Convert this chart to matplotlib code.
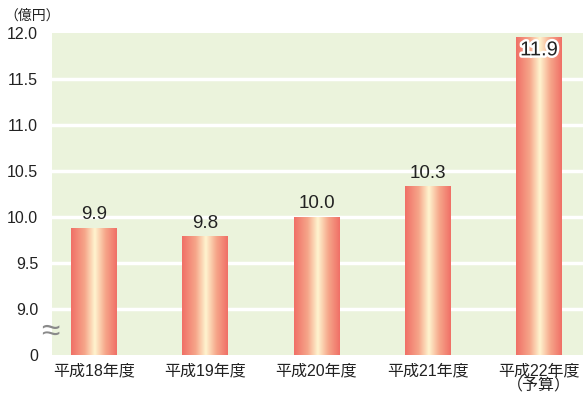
import numpy as np
import matplotlib.pyplot as plt
import matplotlib.patheffects as pe
from matplotlib.colors import LinearSegmentedColormap

plt.rcParams['font.family'] = ['Liberation Sans', 'Noto Sans CJK JP']

# data
years = ['平成18年度', '平成19年度', '平成20年度', '平成21年度', '平成22年度\n（予算）']
values = [9.9, 9.8, 10.0, 10.3, 11.9]
heights = [9.88, 9.79, 10.0, 10.33, 11.95]
ytick_vals = [8.5, 9.0, 9.5, 10.0, 10.5, 11.0, 11.5, 12.0]
ytick_labels = ['0', '9.0', '9.5', '10.0', '10.5', '11.0', '11.5', '12.0']

base = 8.5   # where "0" sits after the axis break
bar_w = 0.413

fig = plt.figure(figsize=(5.83, 4.01), dpi=100)
ax = fig.add_axes([52 / 583, 46 / 401, 531 / 583, 322 / 401])
ax.set_facecolor('#EBF3DC')

# white grid lines
for v in ytick_vals[1:-1]:
    ax.axhline(v, color='white', lw=2.5, zorder=1)

cmap = LinearSegmentedColormap.from_list(
    'bar', [(0, '#F06F66'), (0.3, '#F6A68A'), (0.52, '#FFF4CF'),
            (0.75, '#F6A68A'), (1, '#F06F66')])
grad = np.linspace(0, 1, 256).reshape(1, -1)

for i, h in enumerate(heights):
    ax.imshow(grad, cmap=cmap, aspect='auto', zorder=2,
              extent=[i - bar_w / 2, i + bar_w / 2, base, h])
    if i < len(heights) - 1:
        ax.text(i, h + 0.05, '%.1f' % values[i], ha='center', va='bottom',
                fontsize=13.5, color='#222222', zorder=3)
    else:
        ax.text(i, h - 0.03, '%.1f' % values[i], ha='center', va='top',
                fontsize=14.5, color='#222222', zorder=3,
                path_effects=[pe.withStroke(linewidth=3.5, foreground='white')])

ax.set_xlim(-0.378, 4.396)
ax.set_ylim(base, 12.0)
ax.set_xticks(range(len(years)))
ax.set_xticklabels(years, fontsize=11.5, color='#222222', linespacing=1.0)
ax.set_yticks(ytick_vals)
ax.set_yticklabels(ytick_labels, fontsize=11.5, color='#222222')
ax.tick_params(length=0)
ax.tick_params(axis='y', pad=10)
ax.tick_params(axis='x', pad=6)
for s in ax.spines.values():
    s.set_visible(False)

# axis break mark and unit
fig.text(50 / 583, 1 - 332 / 401, '≈', ha='center', va='center',
         fontsize=24, color='#8A8A8A', family='Liberation Sans')
fig.text(4 / 583, 1 - 16 / 401, '（億円）', ha='left', va='center',
         fontsize=10, color='#222222', family=['Noto Sans CJK JP'])

plt.savefig('out.png', dpi=100)
